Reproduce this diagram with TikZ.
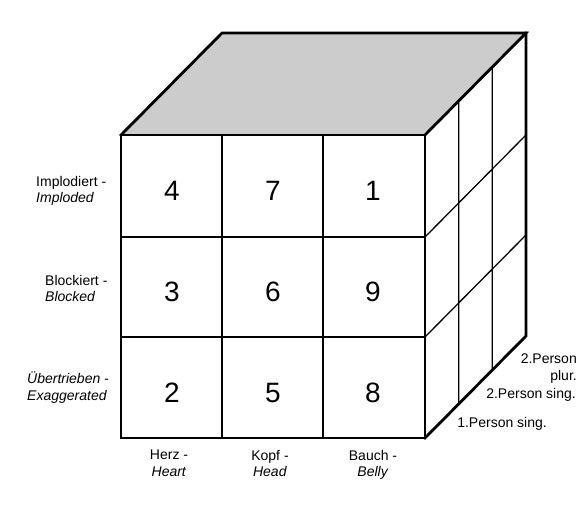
\documentclass[tikz,border=0pt]{standalone}
\usepackage{fontspec}
\setmainfont{Liberation Sans}
\begin{document}
\begin{tikzpicture}[x=1pt,y=-1pt,
  thick line/.style={line width=2.8pt,line join=miter,line cap=rect},
  thin line/.style={line width=1.3pt},
  num/.style={font=\fontsize{28}{30}\selectfont,inner sep=0pt},
  lab/.style={font=\fontsize{14}{16.5}\selectfont,inner sep=0pt}]
\useasboundingbox (0,0) rectangle (586,529);
% corner coordinates
\coordinate (FTL) at (121,135);
\coordinate (FTR) at (425,135);
\coordinate (FBR) at (425,438);
\coordinate (FBL) at (121,438);
\coordinate (BTL) at (222,33);
\coordinate (BTR) at (526,33);
\coordinate (BBR) at (526,336);
% top face
\fill[gray!40] (FTL) -- (BTL) -- (BTR) -- (FTR) -- cycle;
% front grid
\draw[thin line] (222,135) -- (222,438) (323,135) -- (323,438)
  (121,237) -- (425,237) (121,337) -- (425,337);
% side grid
\draw[thin line] (458.7,101) -- (458.7,404) (492.3,67) -- (492.3,370)
  (425,237) -- (526,135) (425,337) -- (526,235);
% outlines
\draw[thick line] (FTL) rectangle (FBR);
\draw[thick line] (FTL) -- (BTL) -- (BTR) -- (FTR);
\draw[thick line] (BTR) -- (BBR) -- (FBR);
% numbers
\node[num] (n4) at (172,191) {4};
\node[num] (n7) at (273,191) {7};
\node[num] (n1) at (373,191) {1};
\node[num] (n3) at (172,292) {3};
\node[num] (n6) at (273,292) {6};
\node[num] (n9) at (373,292) {9};
\node[num] (n2) at (172,393) {2};
\node[num] (n5) at (273,393) {5};
\node[num] (n8) at (373,393) {8};
% left labels
\node[lab,anchor=north west,align=left] (l1) at (36,176) {Implodiert -\\\textit{Imploded}};
\node[lab,anchor=north west,align=left] (l2) at (45,275) {Blockiert -\\\textit{Blocked}};
\node[lab,anchor=north west,align=left] (l3) at (27,372) {\textit{Übertrieben -}\\\textit{Exaggerated}};
% bottom labels
\node[lab,anchor=north,align=center] (b1) at (169,450) {Herz -\\\textit{Heart}};
\node[lab,anchor=north,align=center] (b2) at (270,450) {Kopf -\\\textit{Head}};
\node[lab,anchor=north,align=center] (b3) at (373,450) {Bauch -\\\textit{Belly}};
% right labels
\node[lab,anchor=north east,align=right] (r1) at (577,354) {2.Person\\plur.};
\node[lab,anchor=north east] (r2) at (576,388) {2.Person sing.};
\node[lab,anchor=north east] (r3) at (547,417) {1.Person sing.};
\end{tikzpicture}
\end{document}
